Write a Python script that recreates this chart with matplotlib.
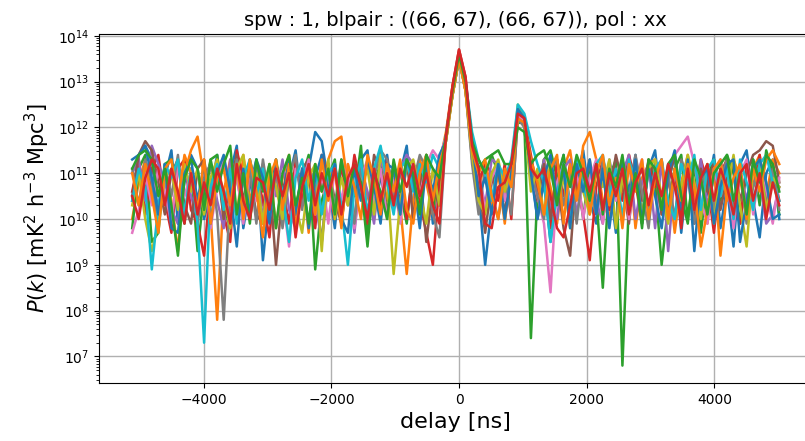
import numpy as np
import matplotlib
matplotlib.use("Agg")
import matplotlib.pyplot as plt
from matplotlib.ticker import LogLocator, NullFormatter

# delay axis: 100 bins, spacing ~102.4 ns, index 50 = 0 ns
delay_step_ns = 102.4
n_bins = 100

# power spectra stored as 10*log10(P) (e.g. 113 -> 1e11.3)
s00 = [104,114,116,113,101,109,115,99,108,114, 111,100,106,114,102,110,116,98,107,113,
       91,105,113,100,109,115,103,111,119,117, 108,98,112,106,100,113,115,102,109,114,
       103,110,116,101,107,114,99,111,118,128, 136,130,115,106,90,103,112,100,110,123,
       122,111,100,108,95,106,114,101,109,115, 104,99,112,108,97,113,106,114,100,111,
       115,102,108,114,97,110,113,100,106,114, 98,107,94,112,115,104,96,110,113,100]
s01 = [100,108,113,106,99,112,104,93,110,115, 118,109,101,78,106,113,100,114,104,110,
       103,112,98,109,114,101,110,97,112,106, 113,117,118,107,99,113,105,100,112,104,
       110,103,88,104,113,108,101,112,119,129, 136,128,114,107,112,102,110,99,112,124,
       122,109,103,113,107,99,111,115,105,116, 119,113,104,100,111,106,114,98,109,112,
       113,101,110,97,108,114,104,111,99,112, 92,106,113,109,100,111,114,105,113,110]
s02 = [98,111,114,95,97,112,113,104,99,111, 93,106,113,114,103,98,111,104,113,107,
       112,100,113,105,111,98,109,114,89,104, 109,113,99,111,105,116,97,108,112,101,
       113,106,99,112,108,114,102,112,117,127, 135,129,118,111,113,114,110,104,112,121,
       121,74,106,113,115,109,114,103,111,100, 112,105,85,109,113,68,104,112,100,113,
       108,90,103,111,114,100,112,97,109,113, 104,114,110,99,111,113,103,115,110,101]
s03 = [106,113,101,111,114,104,97,111,113,102, 99,92,108,112,101,95,115,109,100,110,
       104,96,112,107,99,113,104,111,98,114, 108,100,112,103,114,107,99,111,102,113,
       105,112,100,111,104,97,90,108,118,129, 137,131,117,108,112,110,104,112,100,123,
       122,114,106,111,98,113,105,112,108,101, 91,107,113,102,111,104,114,108,99,112,
       107,113,100,111,98,112,104,113,108,97, 110,113,103,99,112,107,114,102,111,104]
s04 = [110,113,104,116,112,108,102,99,111,105, 100,109,112,104,98,113,109,101,108,112,
       100,111,105,113,102,98,110,112,104,95, 108,112,101,109,97,111,106,99,113,108,
       102,111,114,112,110,112,105,113,118,128, 136,129,116,110,103,113,112,104,110,124,
       122,110,104,113,102,100,111,113,101,109, 112,104,99,113,106,110,114,100,108,112,
       98,113,93,110,105,112,101,113,103,109, 113,106,100,111,104,112,109,99,101,107]
s05 = [105,114,117,115,108,101,110,113,103,99, 111,113,104,112,100,108,114,103,110,101,
       99,109,90,106,112,101,111,113,102,109, 112,104,99,111,106,113,100,114,110,101,
       109,104,113,100,111,95,107,103,118,127, 135,128,113,108,97,108,111,101,112,123,
       121,109,104,112,100,109,98,92,111,106, 113,102,110,105,114,108,99,112,104,113,
       110,101,108,114,103,112,99,111,106,113, 102,109,112,104,110,114,115,117,116,108]
s06 = [97,102,110,103,111,106,99,112,105,110, 101,111,98,107,113,102,110,99,111,104,
       112,100,109,105,94,111,106,113,101,110, 99,111,104,112,98,109,113,103,111,100,
       109,99,113,111,105,112,115,113,118,128, 136,129,116,110,102,109,112,104,110,123,
       121,109,105,99,84,108,112,103,111,100, 109,113,99,111,104,112,100,109,113,101,
       111,104,112,114,116,118,112,104,99,111, 105,112,98,110,113,101,111,106,99,109]
s07 = [111,103,113,108,99,112,105,114,100,111, 99,109,112,101,78,106,113,103,111,99,
       113,104,111,98,109,114,102,112,107,95, 111,103,113,106,99,112,100,109,115,113,
       106,101,113,108,114,111,101,96,118,127, 135,128,112,101,111,106,100,109,101,122,
       120,111,105,100,111,113,103,110,99,112, 106,101,113,108,99,111,104,114,106,98,
       112,103,110,100,113,109,99,107,112,102, 109,113,101,111,99,107,112,103,111,102]
s08 = [103,110,100,93,99,109,111,102,112,106, 111,101,109,113,105,98,111,114,102,110,
       99,112,107,100,111,103,97,109,112,93, 113,100,109,103,112,107,111,101,114,109,
       88,104,111,113,106,99,111,103,117,127, 135,128,114,104,101,110,113,106,111,125,
       122,106,111,101,113,104,109,98,112,106, 101,111,107,113,98,109,103,112,100,111,
       113,105,99,111,107,114,108,100,112,99, 111,106,114,103,94,111,113,102,109,107]
s09 = [104,111,107,89,103,112,109,113,101,111, 99,73,107,112,102,111,99,109,113,105,
       111,100,112,106,95,109,113,104,111,101, 110,112,103,90,107,113,101,111,116,108,
       101,111,113,106,112,108,114,111,118,128, 136,130,119,113,110,104,112,109,113,125,
       123,117,112,108,95,106,112,101,113,107, 103,112,114,105,111,100,113,108,112,102,
       111,113,104,100,112,108,114,102,111,113, 105,111,100,113,108,102,112,114,108,104]
s10 = [113,114,116,109,101,112,98,97,110,113, 104,112,99,110,114,106,94,111,101,113,
       109,99,112,104,113,101,111,98,109,114, 106,112,100,97,111,104,113,107,99,112,
       111,101,113,109,98,112,106,114,117,128, 136,130,117,105,109,101,112,100,110,124,
       122,110,100,109,114,104,111,98,112,106, 113,101,111,98,109,112,103,113,99,111,
       105,98,110,115,100,113,93,109,111,99, 107,112,113,95,104,111,113,108,100,101]
s11 = [110,103,112,105,97,111,113,104,114,110, 102,113,99,109,111,103,112,100,113,106,
       96,109,113,102,112,98,107,111,101,113, 104,111,98,112,107,100,114,109,101,112,
       106,113,102,99,110,114,104,112,117,127, 135,128,115,110,113,105,100,111,107,122,
       121,113,108,101,111,114,99,112,104,113, 101,110,114,103,109,98,112,106,113,100,
       109,113,100,111,104,112,107,94,102,111, 113,104,109,112,100,111,106,113,115,112]
s12 = [111,114,115,113,105,111,103,92,109,113, 111,102,113,106,112,116,101,110,99,113,
       106,112,98,110,114,103,109,99,112,106, 111,101,113,105,112,108,94,110,106,100,
       112,106,113,110,101,114,111,109,118,128, 136,130,117,113,110,114,115,112,112,120,
       119,112,114,115,111,103,112,107,114,110, 104,112,101,111,107,114,103,110,98,113,
       111,102,112,114,105,99,113,109,101,110, 112,114,104,110,101,113,108,114,112,106]
s13 = [105,100,109,113,111,103,111,106,99,110, 101,108,103,111,106,99,112,104,100,109,
       108,102,111,105,110,96,107,112,103,110, 105,111,101,109,112,107,100,111,104,110,
       103,111,107,112,105,110,103,99,118,129, 137,131,116,111,99,98,107,108,112,123,
       122,111,109,111,105,98,96,103,110,111, 106,112,102,110,105,111,101,108,111,103,
       110,105,112,107,100,111,102,109,112,104, 111,107,101,110,112,104,110,100,108,103]

series = [s00, s01, s02, s03, s04, s05, s06, s07, s08, s09, s10, s11, s12, s13]

title = "spw : 1, blpair : ((66, 67), (66, 67)), pol : xx"
xlabel = "delay [ns]"
ylabel = r"$P(k)$ [mK$^2$ h$^{-3}$ Mpc$^3$]"
xticks = [-4000, -2000, 0, 2000, 4000]
ytick_exponents = [7, 8, 9, 10, 11, 12, 13, 14]

delays = (np.arange(n_bins) - n_bins // 2) * delay_step_ns

W, H = 805, 441
fig = plt.figure(figsize=(W / 100, H / 100), dpi=100)
ax = fig.add_axes([99 / W, (H - 383) / H, (812 - 99) / W, (383 - 34) / H])

for s in series:
    ax.plot(delays, 10 ** (np.array(s) / 10.0), lw=1.8)

ax.set_yscale("log")
ax.set_ylim(10 ** 6.42, 10 ** 14.04)
ax.set_xlim(-5640, 5530)
ax.set_xticks(xticks)
ax.set_yticks([10.0 ** e for e in ytick_exponents])
ax.yaxis.set_minor_locator(LogLocator(base=10, subs=np.arange(2, 10)))
ax.yaxis.set_minor_formatter(NullFormatter())
ax.grid(True, which="major", color="#b0b0b0", lw=1.0)
ax.set_title(title, fontsize=14)
ax.set_xlabel(xlabel, fontsize=16)
ax.set_ylabel(ylabel, fontsize=15)
ax.tick_params(labelsize=10)

fig.savefig("out.png", dpi=100)
